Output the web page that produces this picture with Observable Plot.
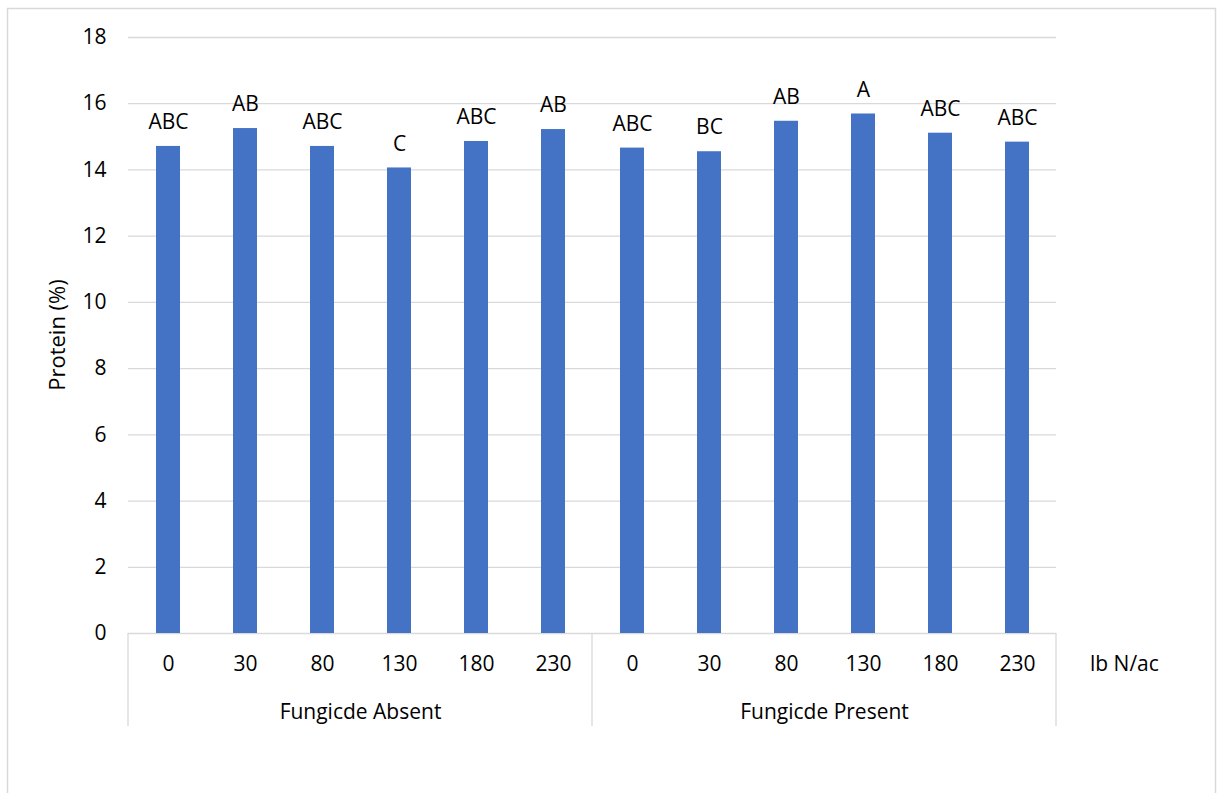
<!DOCTYPE html>
<html>
<head>
<meta charset="utf-8">
<script src="https://cdn.jsdelivr.net/npm/d3@7"></script>
<script src="https://cdn.jsdelivr.net/npm/@observablehq/plot@0.6"></script>
<style>
  html, body { margin: 0; padding: 0; background: #fff; }
  #chart svg { display: block; }
</style>
</head>
<body>
<div id="chart"></div>
<script>
// ---- data ----
const groups = ["Fungicde Absent", "Fungicde Present"];
const rates = ["0", "30", "80", "130", "180", "230"];
const proteinAbsent  = [14.71, 15.25, 14.71, 14.06, 14.86, 15.22];
const proteinPresent = [14.66, 14.55, 15.47, 15.69, 15.11, 14.84];
const lettersAbsent  = ["ABC", "AB", "ABC", "C", "ABC", "AB"];
const lettersPresent = ["ABC", "BC", "AB", "A", "ABC", "ABC"];
const yTicks = [0, 2, 4, 6, 8, 10, 12, 14, 16, 18];
const yLabel = "Protein (%)";
const xUnit = "lb N/ac";

const data = [];
rates.forEach((r, i) => data.push({group: groups[0], rate: r, protein: proteinAbsent[i], letter: lettersAbsent[i]}));
rates.forEach((r, i) => data.push({group: groups[1], rate: r, protein: proteinPresent[i], letter: lettersPresent[i]}));

const W = 1217, H = 793;
const mL = 128, mR = 161, mT = 37, mB = 160;
const grid = "#d9d9d9";
const font = "'Open Sans', sans-serif";
const fs = 21;

const plot = Plot.plot({
  width: W,
  height: H,
  marginLeft: mL,
  marginRight: mR,
  marginTop: mT,
  marginBottom: mB,
  style: {fontFamily: font, fontSize: fs + "px", color: "#000", background: "transparent", overflow: "visible"},
  facet: {data, x: "group"},
  fx: {padding: 0, axis: null, domain: groups},
  x: {domain: rates, paddingInner: 0.69, paddingOuter: 0.345, axis: null},
  y: {domain: [0, 18], ticks: yTicks, tickSize: 0, tickPadding: 22, label: null},
  marks: [
    Plot.ruleY(yTicks, {stroke: grid, strokeWidth: 1.3}),
    Plot.barY(data, {x: "rate", y: "protein", fill: "#4472C4"}),
    Plot.text(data, {x: "rate", y: "protein", text: "letter", dy: -24, fontSize: fs, fill: "#000"}),
    Plot.text(data, {x: "rate", text: "rate", frameAnchor: "bottom", dy: 37, fontSize: fs, fill: "#000"}),
    Plot.text(data, Plot.selectFirst({text: "group", frameAnchor: "bottom", dy: 85, fontSize: fs, fill: "#000"}))
  ]
});

document.getElementById("chart").appendChild(plot);

// decorations: chart border, category separators, axis titles
const svg = d3.select(plot);
svg.insert("rect", ":first-child")
  .attr("x", 7.5).attr("y", 8.5).attr("width", 1208).attr("height", 820)
  .attr("fill", "#fff").attr("stroke", grid).attr("stroke-width", 1.5);

const fx = plot.scale("fx");
const yS = plot.scale("y");
const y0 = yS.apply(0);
const edges = [];
groups.forEach(g => { const a = fx.apply(g); edges.push(a, a + fx.bandwidth); });
Array.from(new Set(edges.map(v => Math.round(v * 10) / 10))).forEach(xv => {
  svg.append("line")
    .attr("x1", xv).attr("x2", xv).attr("y1", y0).attr("y2", y0 + 93)
    .attr("stroke", grid).attr("stroke-width", 1.3);
});
svg.append("text")
  .attr("x", W - mR + 34).attr("y", y0 + 31)
  .attr("dy", "0.32em")
  .attr("text-anchor", "start")
  .attr("font-family", font).attr("font-size", fs).attr("fill", "#000")
  .text(xUnit);
svg.append("text")
  .attr("transform", `translate(58,${(yS.apply(0) + yS.apply(18)) / 2}) rotate(-90)`)
  .attr("dy", "0.32em")
  .attr("text-anchor", "middle")
  .attr("font-family", font).attr("font-size", fs + 1).attr("fill", "#000")
  .text(yLabel);
</script>
</body>
</html>
